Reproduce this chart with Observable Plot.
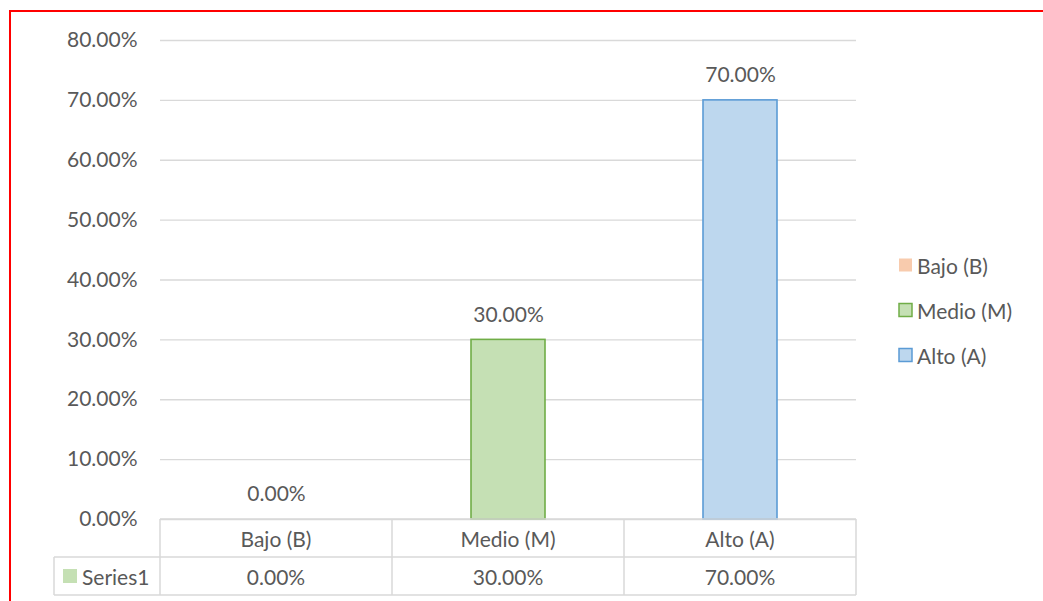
<!DOCTYPE html>
<html>
<head>
<meta charset="utf-8">
<script src="https://cdn.jsdelivr.net/npm/d3@7"></script>
<script src="https://cdn.jsdelivr.net/npm/@observablehq/plot@0.6"></script>
<style>
  html, body { margin: 0; padding: 0; background: #fff; overflow: hidden; width: 1043px; height: 601px; }
  #wrap { position: relative; width: 1043px; height: 601px; }
  #frame { position: absolute; left: 9px; top: 10px; width: 1100px; height: 700px;
           border-left: 2px solid #ff0000; border-top: 2px solid #ff0000; pointer-events: none; }
  #chart { position: absolute; left: 0; top: 0; }
</style>
</head>
<body>
<div id="wrap"><div id="chart"></div><div id="frame"></div></div>
<script>
const categories = ["Bajo (B)", "Medio (M)", "Alto (A)"];
const values = [0.00, 0.30, 0.70];
const seriesName = "Series1";
const yTicks = [0, 0.1, 0.2, 0.3, 0.4, 0.5, 0.6, 0.7, 0.8];

const fillColors = {"Bajo (B)": "#F8CBAD", "Medio (M)": "#C5E0B4", "Alto (A)": "#BDD7EE"};
const strokeColors = {"Bajo (B)": "none", "Medio (M)": "#70AD47", "Alto (A)": "#5B9BD5"};
const seriesColor = "#C5E0B4";
const textColor = "#595959";
const gridColor = "#D9D9D9";
const FONT = "Lato, 'Open Sans', sans-serif";
const FS = 21;

const rows = categories.map((c, i) => ({category: c, value: values[i]}));
const fmt = d3.format(".2%");

const plot = Plot.plot({
  width: 1043,
  height: 601,
  marginLeft: 160,
  marginRight: 187,
  marginTop: 40,
  marginBottom: 82,
  style: {fontFamily: FONT, fontSize: FS + "px", color: textColor, background: "transparent", overflow: "visible"},
  x: {domain: categories, padding: 0, axis: null},
  y: {domain: [0, 0.8], axis: null, label: null},
  color: {type: "identity"},
  marks: [
    Plot.gridY(yTicks, {stroke: gridColor, strokeOpacity: 1, strokeWidth: 1.3}),
    Plot.axisY(yTicks, {tickSize: 0, tickPadding: 23, tickFormat: fmt, fill: textColor, fontSize: FS, label: null}),
    Plot.barY(rows, {
      x: "category", y: "value",
      fill: d => fillColors[d.category],
      stroke: d => strokeColors[d.category],
      strokeWidth: 1.6,
      insetLeft: 79, insetRight: 79
    }),
    Plot.text(rows, {x: "category", y: "value", text: d => fmt(d.value), dy: -25, fill: textColor, fontSize: FS})
  ]
});

document.getElementById("chart").appendChild(plot);

// Data table under the plot, positioned from the plot's own scales
const xs = plot.scale("x");
const ys = plot.scale("y");
const bw = xs.bandwidth;
const y0 = ys.apply(0);
const rowH = 38;
const svg = d3.select(plot);
const g = svg.append("g").attr("font-family", FONT).attr("font-size", FS).attr("fill", textColor);
const left = xs.apply(categories[0]);
const right = xs.apply(categories[categories.length - 1]) + bw;
const keyLeft = 54;
const lineStyle = sel => sel.attr("stroke", gridColor).attr("stroke-width", 1.5);

// horizontal lines
g.append("line").attr("x1", left).attr("x2", right).attr("y1", y0).attr("y2", y0).call(lineStyle);
g.append("line").attr("x1", keyLeft).attr("x2", right).attr("y1", y0 + rowH).attr("y2", y0 + rowH).call(lineStyle);
g.append("line").attr("x1", keyLeft).attr("x2", right).attr("y1", y0 + 2 * rowH).attr("y2", y0 + 2 * rowH).call(lineStyle);
// vertical lines
g.append("line").attr("x1", keyLeft).attr("x2", keyLeft).attr("y1", y0 + rowH).attr("y2", y0 + 2 * rowH).call(lineStyle);
categories.forEach(c => {
  const x = xs.apply(c);
  g.append("line").attr("x1", x).attr("x2", x).attr("y1", y0).attr("y2", y0 + 2 * rowH).call(lineStyle);
});
g.append("line").attr("x1", right).attr("x2", right).attr("y1", y0).attr("y2", y0 + 2 * rowH).call(lineStyle);

// header + values
rows.forEach(r => {
  const cx = xs.apply(r.category) + bw / 2;
  g.append("text").attr("x", cx).attr("y", y0 + rowH / 2).attr("text-anchor", "middle")
    .attr("dominant-baseline", "central").text(r.category);
  g.append("text").attr("x", cx).attr("y", y0 + rowH * 1.5).attr("text-anchor", "middle")
    .attr("dominant-baseline", "central").text(fmt(r.value));
});
// series key
g.append("rect").attr("x", 63).attr("y", y0 + rowH * 1.5 - 7).attr("width", 14).attr("height", 14).attr("fill", seriesColor);
g.append("text").attr("x", 82).attr("y", y0 + rowH * 1.5).attr("text-anchor", "start")
  .attr("dominant-baseline", "central").text(seriesName);

// Legend on the right
const lg = svg.append("g").attr("font-family", FONT).attr("font-size", FS).attr("fill", textColor);
categories.forEach((c, i) => {
  const cy = 265 + i * 45;
  lg.append("rect").attr("x", 899).attr("y", cy - 6.5).attr("width", 13).attr("height", 13)
    .attr("fill", fillColors[c])
    .attr("stroke", strokeColors[c])
    .attr("stroke-width", 1.5);
  lg.append("text").attr("x", 917).attr("y", cy).attr("text-anchor", "start")
    .attr("dominant-baseline", "central").text(c);
});
</script>
</body>
</html>
